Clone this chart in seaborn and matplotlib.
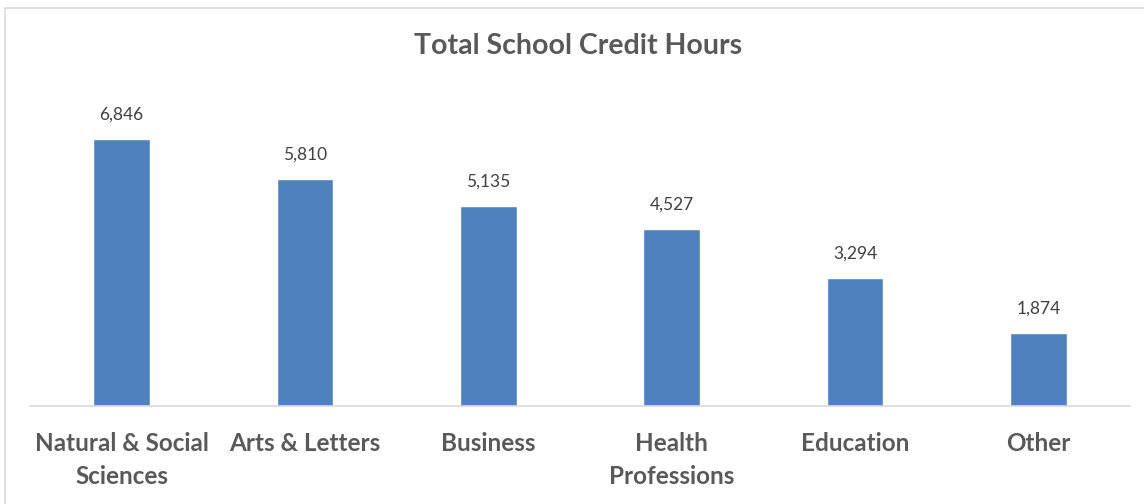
import matplotlib
matplotlib.use("Agg")
import matplotlib.pyplot as plt
import numpy as np
import pandas as pd
import seaborn as sns
from matplotlib.patches import Rectangle

# data
categories = ["Natural & Social\nSciences", "Arts & Letters", "Business",
              "Health\nProfessions", "Education", "Other"]
credit_hours = [6846, 5810, 5135, 4527, 3294, 1874]

df = pd.DataFrame({"category": categories, "hours": credit_hours})

sns.set_theme(style="white")
plt.rcParams["font.family"] = ["Lato", "DejaVu Sans"]

W, H = 1144, 504
fig = plt.figure(figsize=(W / 100, H / 100), dpi=100)

# axes placed in pixel terms: x from 30 to 1130, baseline at y=406
ax_left, ax_right = 30, 1130
ax_bottom, ax_top = 406, 94
ax = fig.add_axes([ax_left / W, 1 - ax_bottom / H,
                   (ax_right - ax_left) / W, (ax_bottom - ax_top) / H])

sns.barplot(data=df, x="category", y="hours", color="#4F81BD",
            saturation=1, width=0.31, ax=ax)

ax.set_ylim(0, 8000)
ax.set_xlim(-0.5, len(categories) - 0.5)

for i, v in enumerate(credit_hours):
    ax.text(i, v + 420, f"{v:,}", ha="center", va="bottom",
            fontsize=12.5, color="#404040")

for s in ["top", "right", "left"]:
    ax.spines[s].set_visible(False)
ax.spines["bottom"].set_color("#D9D9D9")
ax.spines["bottom"].set_linewidth(1.2)
ax.set_yticks([])
ax.set_xlabel("")
ax.set_ylabel("")
ax.tick_params(axis="x", length=0, pad=19)
for lbl in ax.get_xticklabels():
    lbl.set_fontsize(17.5)
    lbl.set_fontweight("bold")
    lbl.set_color("#595959")
    lbl.set_linespacing(1.5)

fig.text(578 / W, 1 - 46 / H, "Total School Credit Hours", ha="center",
         va="center", fontsize=20.5, fontweight="bold", color="#595959")

# chart-area border
fig.patches.append(Rectangle((5 / W, -0.1), 1.2, 1 - 8 / H + 0.1,
                             transform=fig.transFigure, fill=False,
                             edgecolor="#D9D9D9", linewidth=1.2))

fig.savefig("out.png", dpi=100)
